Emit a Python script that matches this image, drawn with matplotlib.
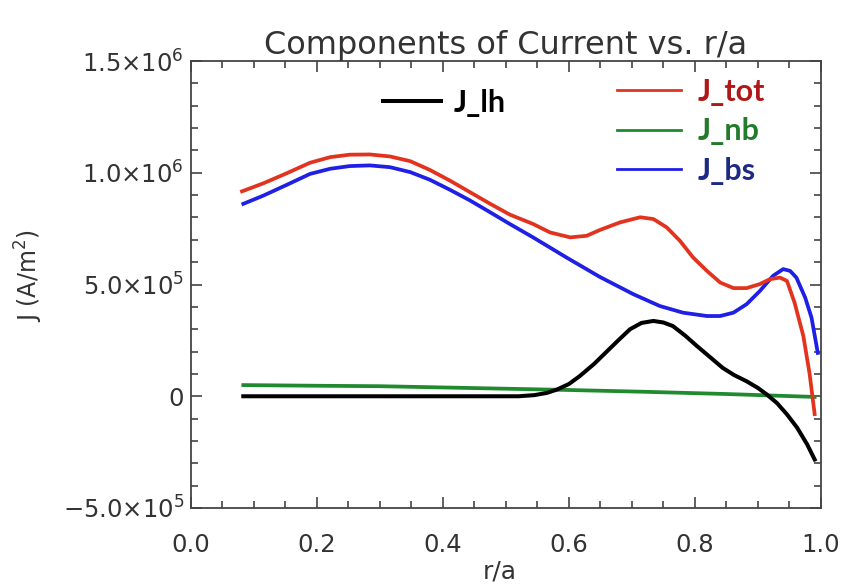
import matplotlib
matplotlib.use('Agg')
import matplotlib.pyplot as plt
from matplotlib.ticker import MultipleLocator, FuncFormatter
from matplotlib.lines import Line2D

# data (r/a, current density in units of 1e6 A/m^2)
r_tot = [0.081, 0.115, 0.152, 0.189, 0.221, 0.252, 0.284, 0.316, 0.348, 0.379, 0.411,
         0.443, 0.475, 0.506, 0.543, 0.570, 0.602, 0.628, 0.649, 0.681, 0.713, 0.734,
         0.755, 0.776, 0.797, 0.819, 0.840, 0.861, 0.882, 0.903, 0.919, 0.935, 0.946,
         0.958, 0.972, 0.982, 0.990]
j_tot = [0.917, 0.953, 0.998, 1.045, 1.070, 1.081, 1.082, 1.073, 1.052, 1.013, 0.965,
         0.913, 0.861, 0.813, 0.771, 0.733, 0.711, 0.718, 0.744, 0.778, 0.801, 0.793,
         0.756, 0.696, 0.621, 0.561, 0.509, 0.484, 0.484, 0.502, 0.524, 0.531, 0.516,
         0.42, 0.27, 0.10, -0.08]

r_bs = [0.083, 0.115, 0.152, 0.189, 0.221, 0.252, 0.284, 0.316, 0.348, 0.379, 0.411,
        0.443, 0.475, 0.506, 0.543, 0.596, 0.649, 0.702, 0.744, 0.781, 0.819, 0.840,
        0.861, 0.882, 0.903, 0.924, 0.940, 0.951, 0.961, 0.975, 0.985, 0.995]
j_bs = [0.861, 0.898, 0.946, 0.995, 1.018, 1.030, 1.033, 1.025, 1.003, 0.969, 0.924,
        0.876, 0.823, 0.771, 0.711, 0.621, 0.534, 0.457, 0.404, 0.374, 0.359, 0.359,
        0.374, 0.412, 0.471, 0.539, 0.569, 0.561, 0.531, 0.441, 0.352, 0.194]

r_lh = [0.083, 0.3, 0.459, 0.52, 0.545, 0.565, 0.581, 0.60, 0.617, 0.64, 0.66, 0.68, 0.697,
        0.715, 0.734, 0.75, 0.765, 0.785, 0.803, 0.824, 0.844, 0.862, 0.882, 0.9, 0.914,
        0.93, 0.946, 0.962, 0.978, 0.990]
j_lh = [0.0, 0.0, 0.0, 0.0, 0.005, 0.015, 0.03, 0.055, 0.09, 0.145, 0.20, 0.255, 0.30,
        0.328, 0.337, 0.33, 0.314, 0.27, 0.225, 0.175, 0.127, 0.095, 0.067, 0.037, 0.008,
        -0.03, -0.081, -0.14, -0.215, -0.283]

r_nb = [0.083, 0.2, 0.3, 0.46, 0.6, 0.72, 0.85, 0.99]
j_nb = [0.050, 0.047, 0.045, 0.036, 0.028, 0.020, 0.010, -0.003]

scale = 1e6

plt.rcParams['mathtext.fontset'] = 'dejavusans'
grey = '#333333'

fig = plt.figure(figsize=(8.44, 5.87), dpi=100)
ax = fig.add_axes([0.2263, 0.1346, 0.7464, 0.7614])

ax.plot(r_nb, [v * scale for v in j_nb], color='#1f8a2e', lw=2.7)
ax.plot(r_lh, [v * scale for v in j_lh], color='black', lw=2.9)
ax.plot(r_bs, [v * scale for v in j_bs], color='#1f1fe6', lw=2.7)
ax.plot(r_tot, [v * scale for v in j_tot], color='#e2331f', lw=2.7)

ax.set_xlim(0, 1)
ax.set_ylim(-5e5, 1.5e6)

ax.xaxis.set_major_locator(MultipleLocator(0.2))
ax.xaxis.set_minor_locator(MultipleLocator(0.05))
ax.yaxis.set_major_locator(MultipleLocator(5e5))
ax.yaxis.set_minor_locator(MultipleLocator(1e5))


def sci(v, pos):
    if abs(v) < 1:
        return '0'
    exp = len(str(int(abs(v)))) - 1
    mant = v / 10 ** exp
    return r'$%.1f{\times}10^{%d}$' % (mant, exp)


ax.xaxis.set_major_formatter(FuncFormatter(lambda v, p: '%.1f' % v))
ax.yaxis.set_major_formatter(FuncFormatter(sci))

ax.tick_params(which='both', direction='in', top=True, right=True, color='#444444',
               width=1.2, labelcolor=grey, labelsize=17.5)
ax.tick_params(which='major', length=8)
ax.tick_params(which='minor', length=5)
ax.tick_params(axis='x', pad=18)
ax.tick_params(axis='y', pad=5)
for s in ax.spines.values():
    s.set_color('#444444')
    s.set_linewidth(1.3)

ax.set_title('Components of Current vs. r/a', fontsize=23, color=grey, pad=4)
ax.set_xlabel('r/a', fontsize=18, color=grey)
ax.set_ylabel('J (A/m$^2$)', fontsize=17, color=grey)
ax.xaxis.set_label_coords(0.49, -0.115)
ax.yaxis.set_label_coords(-0.232, 0.52)

# legends drawn as in the picture: one for J_lh, one for the other three
font = {'family': 'Lato', 'weight': 'bold', 'size': 22}
leg1 = ax.legend(handles=[Line2D([], [], color='black', lw=2.9)], labels=['J_lh'],
                 loc='upper left', bbox_to_anchor=(0.305, 0.938), frameon=False,
                 prop=font, handlelength=1.9, handletextpad=0.4, borderpad=0,
                 borderaxespad=0, labelcolor=['black'])
ax.add_artist(leg1)
ax.legend(handles=[Line2D([], [], color='#e2331f', lw=2),
                   Line2D([], [], color='#1f8a2e', lw=2),
                   Line2D([], [], color='#1f1fe6', lw=2)],
          labels=['J_tot', 'J_nb', 'J_bs'],
          loc='upper left', bbox_to_anchor=(0.676, 0.963), frameon=False,
          prop=font, handlelength=2.1, handletextpad=0.55, borderpad=0,
          borderaxespad=0, labelspacing=0.38,
          labelcolor=['#b01818', '#237a2a', '#1c2a86'])

fig.savefig('out.png', dpi=100)
